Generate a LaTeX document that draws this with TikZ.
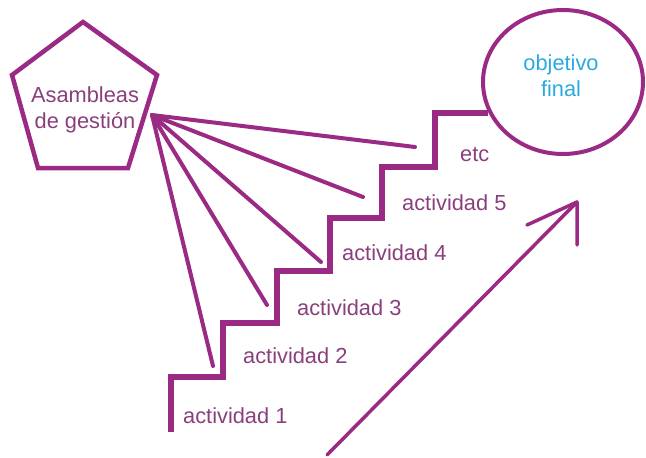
\documentclass[tikz,border=0pt]{standalone}
\usepackage{fontspec}
\setmainfont{Liberation Sans}
\definecolor{pline}{HTML}{9A2A84}
\definecolor{ptext}{HTML}{8A3F7C}
\definecolor{ctext}{HTML}{2AAAE0}
\tikzset{
  lbl/.style={text=ptext, font=\fontsize{21.8}{25}\selectfont, inner sep=0pt, anchor=base west},
  fan/.style={draw=pline, line width=4pt, line cap=round},
  stair/.style={draw=pline, line width=6pt, line join=miter},
}
\begin{document}
\begin{tikzpicture}[x=1pt,y=-1pt]
\useasboundingbox (0,0) rectangle (646,458);
% pentagon
\draw[pline, line width=4.5pt, line join=miter] (83,22) -- (157,75) -- (128,168) -- (38,168) -- (12,75) -- cycle;
\node[text=ptext, font=\fontsize{21.8}{26}\selectfont, align=center, inner sep=0pt] (asam) at (85,110) {Asambleas\\de gestión};
\coordinate (hub) at (152,115);
% ellipse
\draw[pline, line width=4pt] (563,82) ellipse [x radius=80, y radius=72];
\node[text=ctext, font=\fontsize{21.8}{26}\selectfont, align=center, inner sep=0pt] (obj) at (561,76) {objetivo\\final};
% stairs
\draw[stair] (171,432) -- (171,377) -- (223,377) -- (223,323) -- (277,323) -- (277,271) -- (330,271) -- (330,218) -- (382,218) -- (382,167) -- (435,167) -- (435,113) -- (488,113);
% fan endpoints
\coordinate (e1) at (415,147);
\coordinate (e2) at (363,197);
\coordinate (e3) at (321,262);
\coordinate (e4) at (267,305);
\coordinate (e5) at (213,366);
\foreach \e in {e1,e2,e3,e4,e5} \draw[fan] (hub) -- (\e);
% labels
\node[lbl] (a1) at (183,423) {actividad 1};
\node[lbl] (a2) at (243,363) {actividad 2};
\node[lbl] (a3) at (297,315) {actividad 3};
\node[lbl] (a4) at (342,260) {actividad 4};
\node[lbl] (a5) at (402,210) {actividad 5};
\node[lbl] (etc) at (460,161) {etc};
% arrow
\coordinate (as) at (327,455);
\coordinate (at) at (577,202);
\coordinate (h1) at (527,225);
\coordinate (h2) at (577,245);
\draw[pline, line width=3.5pt, line cap=round, line join=round] (as) -- (at);
\draw[pline, line width=3.5pt, line cap=round, line join=round] (h1) -- (at) -- (h2);
\end{tikzpicture}
\end{document}
